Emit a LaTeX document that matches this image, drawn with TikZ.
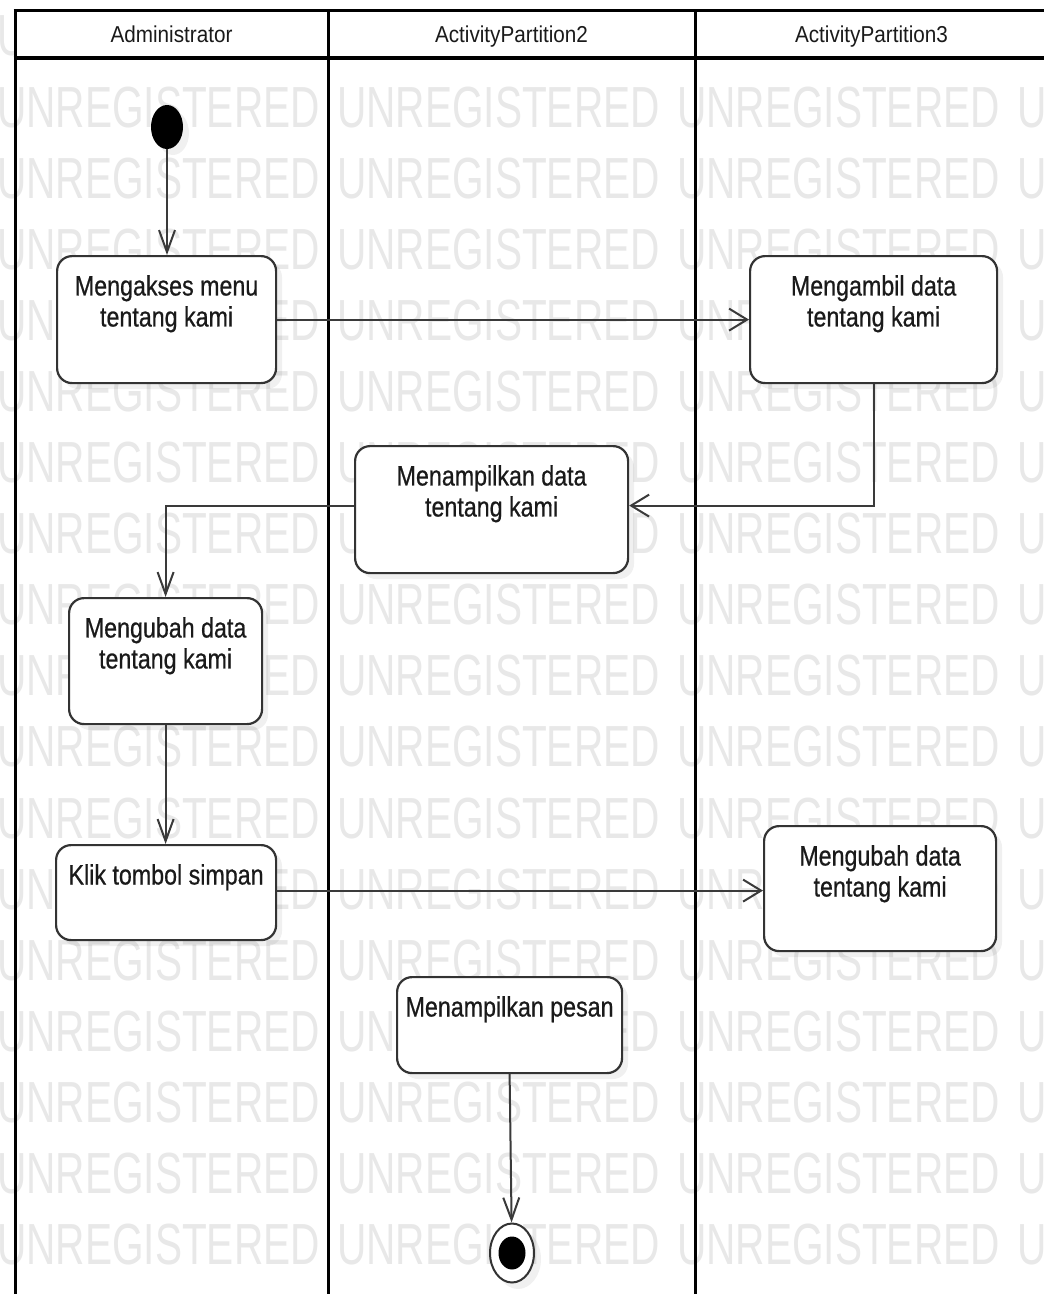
\documentclass[tikz,border=0pt]{standalone}
\usepackage{fontspec}
\setmainfont{Liberation Sans}
\newfontfamily\boxfont[FakeStretch=0.83, FakeBold=0.6]{Liberation Sans}
\newfontfamily\headfont[FakeStretch=0.9]{Liberation Sans}
\newfontfamily\wmfont[FakeStretch=0.70]{Liberation Sans}
\usetikzlibrary{arrows.meta,shapes.geometric}
\definecolor{wmgray}{HTML}{E8E8E8}
\definecolor{edgec}{HTML}{333333}
\definecolor{inkc}{HTML}{1A1A1A}
\definecolor{flowc}{HTML}{3A3A3A}
\tikzset{
  lane/.style={draw=black, line width=3pt},
  wmtext/.style={font=\wmfont\fontsize{58}{58}\selectfont, text=wmgray, inner sep=0pt, anchor=west},
  headtxt/.style={font=\headfont\fontsize{23}{26}\selectfont, text=inkc, inner sep=0pt, anchor=base},
  act/.style={draw=edgec, line width=2.2pt, fill=white, rounded corners=15pt, inner sep=0pt, anchor=north west},
  acttxt/.style={font=\boxfont\fontsize{28}{31}\selectfont, text=inkc, inner sep=0pt, anchor=north, align=center},
  shadowc/.style={fill=black, fill opacity=0.06},
  flow/.style={draw=flowc, line width=2pt},
  vhead/.style={-{Straight Barb[length=22pt, width=16pt]}},
  hhead/.style={-{Straight Barb[length=18pt, width=22pt]}},
}
\newcommand\actbox[6]{%
  \fill[shadowc, rounded corners=15pt] (#2+7,#3+7) rectangle (#4+7,#5+7);
  \node[act, minimum width=#4-#2, minimum height=#5-#3] (#1) at (#2,#3) {};
  \node[acttxt, yshift=-20pt] (#1t) at (#1.north) {#6};
}
\begin{document}
\begin{tikzpicture}[x=1pt, y=-1pt]
\useasboundingbox (0,0) rectangle (1044,1294);
\clip (0,0) rectangle (1044,1294);
\fill[white] (0,0) rectangle (1044,1294);
% watermark
\foreach \k in {0,...,17}{
  \foreach \j in {0,...,3}{
    \node[wmtext] (wm-\k-\j) at (-3+340*\j, 36+71.1*\k) {UNREGISTERED};
  }
}
% header background
\fill[white] (15,10) rectangle (1050,58);
% swimlane frame
\draw[lane] (13.5,10) -- (1050,10);
\draw[lane, line width=3.5pt] (13.5,58) -- (1050,58);
\draw[lane] (15,10) -- (15,1300);
\draw[lane] (328,10) -- (328,1300);
\draw[lane] (695,10) -- (695,1300);
% headers
\node[headtxt] (h1) at (171.5,42) {Administrator};
\node[headtxt] (h2) at (511.5,42) {ActivityPartition2};
\node[headtxt] (h3) at (871.5,42) {ActivityPartition3};
% initial node
\fill[shadowc] (173,133) ellipse [x radius=16, y radius=22];
\node[ellipse, fill=black, minimum width=32pt, minimum height=44pt, inner sep=0pt] (init) at (167,127) {};
% activities
\actbox{b1}{56}{255}{275}{382}{Mengakses menu\\tentang kami}
\actbox{b2}{749}{255}{996}{382}{Mengambil data\\tentang kami}
\actbox{b3}{354}{445}{627}{572}{Menampilkan data\\tentang kami}
\actbox{b4}{68}{597}{261}{723}{Mengubah data\\tentang kami}
\actbox{b5}{55}{844}{275}{939}{Klik tombol simpan}
\actbox{b6}{763}{825}{995}{950}{Mengubah data\\tentang kami}
\actbox{b7}{396}{976}{621}{1072}{Menampilkan pesan}
% final node
\fill[shadowc] (518,1259) ellipse [x radius=23, y radius=30];
\node[ellipse, draw=edgec, line width=2pt, fill=white, minimum width=44pt, minimum height=59pt, inner sep=0pt] (fin) at (512,1253) {};
\node[ellipse, fill=black, minimum width=27pt, minimum height=33pt, inner sep=0pt] (finin) at (fin.center) {};
% connectors
\draw[flow, vhead] (init.south) -- (init.south |- b1.north);
\draw[flow, hhead] (b1) -- (b2);
\draw[flow, hhead] (b2.south) |- ([yshift=4pt]b3.east);
\draw[flow, vhead] ([yshift=4pt]b3.west) -| (b4.north);
\draw[flow, vhead] (b4.south) -- (b4.south |- b5.north);
\draw[flow, hhead] ([yshift=2pt]b5.east) -- ([yshift=2pt]b5.east -| b6.west);
\draw[flow, vhead] (b7.south) -- (fin);
\end{tikzpicture}
\end{document}
